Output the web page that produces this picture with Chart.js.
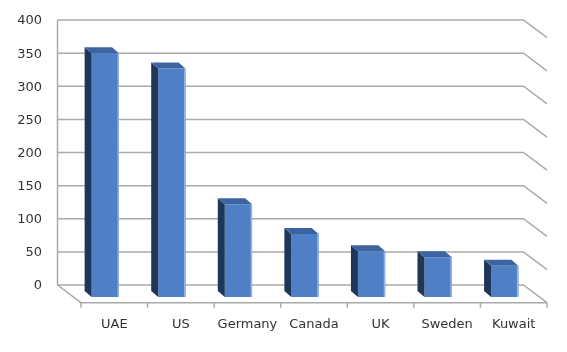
<!DOCTYPE html>
<html>
<head>
<meta charset="utf-8">
<script src="https://cdn.jsdelivr.net/npm/chart.js@4"></script>
<style>
  html, body { margin: 0; padding: 0; background: #fff; }
  #wrap { width: 567px; height: 352px; }
</style>
</head>
<body>
<div id="wrap"><canvas id="countryChart" width="567" height="352"></canvas></div>
<script>
var countries = ["UAE", "US", "Germany", "Canada", "UK", "Sweden", "Kuwait"];
var counts = [368, 345, 140, 95, 69, 60, 47];
var yTicks = [0, 50, 100, 150, 200, 250, 300, 350, 400];

// offsets of the fake 3d box (pixels)
var wallDx = -14.5, wallDy = -12;   // back wall relative to bar plane
var frontDx = 9, frontDy = 5.7;     // floor front edge relative to bar plane
var barDepthX = 7, barDepthY = 6;

var box3d = {
    id: "box3d",
    beforeDatasetsDraw: function (chart) {
        var ctx = chart.ctx;
        var area = chart.chartArea;
        var y = chart.scales.y;
        var left = area.left + wallDx, right = area.right + wallDx;
        ctx.save();
        ctx.strokeStyle = "#aaaaaa";
        ctx.lineWidth = 1.5;
        yTicks.forEach(function (v) {
            var py = y.getPixelForValue(v) + wallDy;
            ctx.beginPath();
            ctx.moveTo(left, py);
            ctx.lineTo(right, py);
            ctx.lineTo(right + (frontDx - wallDx), py + (frontDy - wallDy));
            ctx.stroke();
        });
        // left wall edge + floor
        var top = y.getPixelForValue(400) + wallDy;
        var zero = y.getPixelForValue(0) + wallDy;
        var floorY = y.getPixelForValue(0) + frontDy;
        ctx.beginPath();
        ctx.moveTo(left, top);
        ctx.lineTo(left, zero);
        ctx.lineTo(area.left + frontDx, floorY);
        ctx.lineTo(area.right + frontDx, floorY);
        ctx.stroke();
        // category ticks on the floor front edge
        var step = (area.right - area.left) / countries.length;
        for (var i = 0; i <= countries.length; i++) {
            var px = area.left + frontDx + i * step;
            ctx.beginPath();
            ctx.moveTo(px, floorY);
            ctx.lineTo(px, floorY + 5);
            ctx.stroke();
        }
        ctx.restore();
    },
    afterDatasetsDraw: function (chart) {
        var ctx = chart.ctx;
        var meta = chart.getDatasetMeta(0);
        ctx.save();
        meta.data.forEach(function (bar) {
            var p = bar.getProps(["x", "y", "base", "width"], true);
            var l = p.x - p.width / 2, r = p.x + p.width / 2;
            // side face
            ctx.fillStyle = "#1f3658";
            ctx.beginPath();
            ctx.moveTo(l, p.y);
            ctx.lineTo(l - barDepthX, p.y - barDepthY);
            ctx.lineTo(l - barDepthX, p.base - barDepthY);
            ctx.lineTo(l, p.base);
            ctx.closePath();
            ctx.fill();
            // top face
            ctx.fillStyle = "#3c64a0";
            ctx.beginPath();
            ctx.moveTo(l, p.y);
            ctx.lineTo(r, p.y);
            ctx.lineTo(r - barDepthX, p.y - barDepthY);
            ctx.lineTo(l - barDepthX, p.y - barDepthY);
            ctx.closePath();
            ctx.fill();
            // light edge on the right of the front face
            ctx.fillStyle = "#93b3e2";
            ctx.fillRect(r - 1.5, p.y, 1.5, p.base - p.y);
        });
        ctx.restore();
    }
};

let countryChart = new Chart(document.getElementById("countryChart").getContext("2d"), {
    type: "bar",
    data: {
        labels: countries,
        datasets: [{
            data: counts,
            backgroundColor: "#4f80c6",
            borderWidth: 0,
            barPercentage: 0.41,
            categoryPercentage: 1.0
        }]
    },
    options: {
        responsive: false,
        animation: false,
        layout: {
            padding: { top: 32, right: 29, left: 0, bottom: 0 }
        },
        plugins: {
            legend: { display: false },
            tooltip: { enabled: false }
        },
        scales: {
            x: {
                grid: { display: false, drawTicks: false },
                border: { display: false },
                ticks: {
                    color: "#333",
                    font: { family: "DejaVu Sans", size: 13 },
                    labelOffset: 9,
                    padding: 20,
                    maxRotation: 0
                },
                afterFit: function (scale) { scale.height = 55; }
            },
            y: {
                min: 0,
                max: 400,
                grid: { display: false, drawTicks: false },
                border: { display: false },
                ticks: {
                    stepSize: 50,
                    color: "#333",
                    font: { family: "DejaVu Sans", size: 13 },
                    labelOffset: -11,
                    padding: 30
                },
                afterFit: function (scale) {
                    scale.width = 72;
                    scale.paddingTop = 0;
                    scale.paddingBottom = 0;
                }
            }
        }
    },
    plugins: [box3d]
});
</script>
</body>
</html>
